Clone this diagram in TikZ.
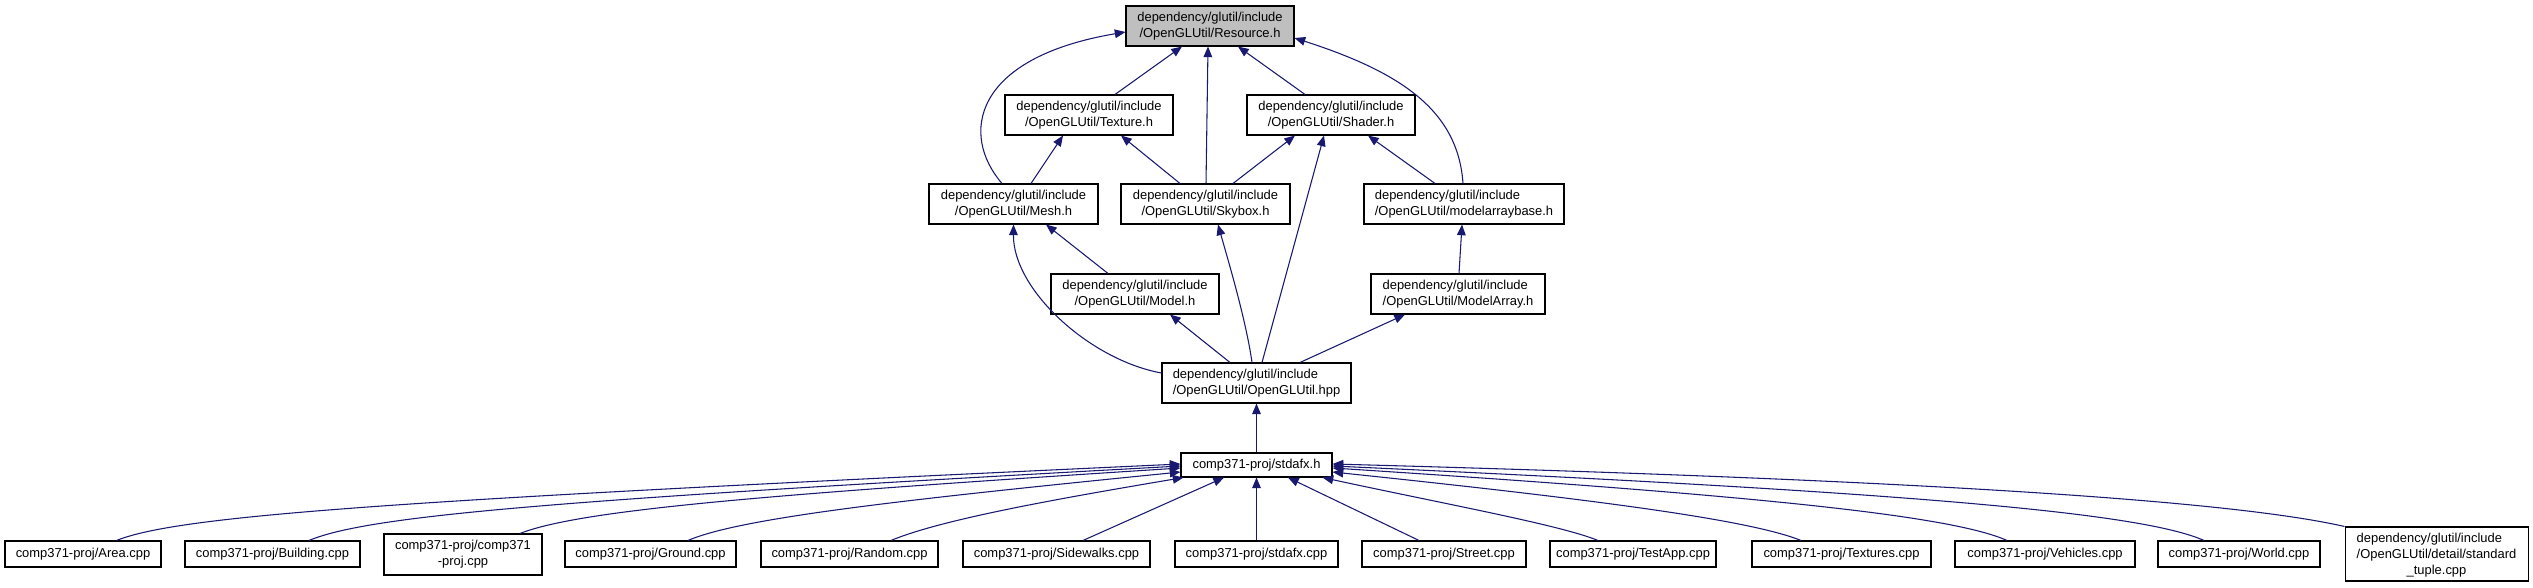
\documentclass[tikz,border=0pt]{standalone}
\usepackage{fontspec}
\setmainfont{Liberation Sans}
\usetikzlibrary{calc,arrows.meta}
\definecolor{edgec}{HTML}{191970}
\definecolor{resfill}{HTML}{BFBFBF}
\begin{document}
\begin{tikzpicture}[x=0.75pt,y=-0.75pt,
  box/.style={draw=black, line width=0.8pt, fill=white, inner sep=0pt,
    font=\fontsize{9.7pt}{12pt}\selectfont, align=center},
  bw/.style={minimum width=#1*0.75pt},
  bh/.style={minimum height=#1*0.75pt},
  edge/.style={draw=edgec, line width=0.8pt, -{Triangle[length=8pt,width=6.5pt]}},
]
\fill[white] (0,0) rectangle (2533,588);
\useasboundingbox (0,0) rectangle (2533,588);

% upper nodes
\node[box,fill=resfill,bw=168,bh=40] (res) at (1210,26) {dependency/glutil/include\\/OpenGLUtil/Resource.h};
\node[box,bw=168,bh=40] (tex) at (1089,115) {dependency/glutil/include\\/OpenGLUtil/Texture.h};
\node[box,bw=168,bh=40] (sha) at (1331,115) {dependency/glutil/include\\/OpenGLUtil/Shader.h};
\node[box,bw=169,bh=40] (mesh) at (1013.5,204) {dependency/glutil/include\\/OpenGLUtil/Mesh.h};
\node[box,bw=169,bh=40] (sky) at (1205.5,204) {dependency/glutil/include\\/OpenGLUtil/Skybox.h};
\node[box,bw=200,bh=40,align=left] (mab) at (1464,204) {dependency/glutil/include\\/OpenGLUtil/modelarraybase.h};
\node[box,bw=168,bh=40] (model) at (1135,294) {dependency/glutil/include\\/OpenGLUtil/Model.h};
\node[box,bw=174,bh=40,align=left] (marr) at (1458,294) {dependency/glutil/include\\/OpenGLUtil/ModelArray.h};
\node[box,bw=189,bh=40,align=left] (ogl) at (1256.5,383) {dependency/glutil/include\\/OpenGLUtil/OpenGLUtil.hpp};
\node[box,bw=151,bh=24] (stdh) at (1256.5,465) {comp371-proj/stdafx.h};

% bottom row
\node[box,bw=156,bh=26] (area) at (83,554) {comp371-proj/Area.cpp};
\node[box,bw=175,bh=26] (bldg) at (272.5,554) {comp371-proj/Building.cpp};
\node[box,bw=158,bh=41] (c371) at (463,554.5) {comp371-proj/comp371\\-proj.cpp};
\node[box,bw=171,bh=26] (ground) at (650.5,554) {comp371-proj/Ground.cpp};
\node[box,bw=177,bh=26] (random) at (849.5,554) {comp371-proj/Random.cpp};
\node[box,bw=187,bh=26] (side) at (1056.5,554) {comp371-proj/Sidewalks.cpp};
\node[box,bw=163,bh=26] (sdcpp) at (1256.5,554) {comp371-proj/stdafx.cpp};
\node[box,bw=164,bh=26] (street) at (1444,554) {comp371-proj/Street.cpp};
\node[box,bw=166,bh=26] (testapp) at (1633,554) {comp371-proj/TestApp.cpp};
\node[box,bw=179,bh=26] (textures) at (1841.5,554) {comp371-proj/Textures.cpp};
\node[box,bw=180,bh=26] (vehicles) at (2045,554) {comp371-proj/Vehicles.cpp};
\node[box,bw=162,bh=26] (world) at (2239,554) {comp371-proj/World.cpp};
\node[box,bw=183,bh=54] (tuple) at (2436.5,554) {\begin{tabular}{@{}l@{}}dependency/glutil/include\\/OpenGLUtil/detail/standard\end{tabular}\\\_tuple.cpp};

% upper edges
\draw[edge] ($(tex.north)+(26,0)$) -- ($(res.south)+(-28,0)$);
\draw[edge] ($(sha.north)+(-26,0)$) -- ($(res.south)+(28,0)$);
\draw[edge] ($(sky.north)+(0.5,0)$) -- ($(res.south)+(-2,0)$);
\draw[edge] ($(mesh.north)+(-11.5,0)$) .. controls (960,135) and (972,58) .. ($(res.west)+(0,6)$);
\draw[edge] ($(mab.north)+(-1,0)$) .. controls (1458,110) and (1400,72) .. ($(res.east)+(0,12)$);
\draw[edge] ($(mesh.north)+(17.5,0)$) -- ($(tex.south)+(-26,0)$);
\draw[edge] ($(sky.north)+(-25.5,0)$) -- ($(tex.south)+(32,0)$);
\draw[edge] ($(sky.north)+(27.5,0)$) -- ($(sha.south)+(-36,0)$);
\draw[edge] ($(ogl.north)+(5.5,0)$) -- ($(sha.south)+(-7,0)$);
\draw[edge] ($(mab.north)+(-29,0)$) -- ($(sha.south)+(37,0)$);
\draw[edge] ($(model.north)+(-27,0)$) -- ($(mesh.south)+(32.5,0)$);
\draw[edge] ($(ogl.west)+(0,-10)$) .. controls (1090,360) and (1013,290) .. (mesh.south);
\draw[edge] ($(ogl.north)+(-4.5,0)$) .. controls (1246,320) and (1228,260) .. ($(sky.south)+(12.5,0)$);
\draw[edge] ($(ogl.north)+(-26.5,0)$) -- ($(model.south)+(35,0)$);
\draw[edge] ($(ogl.north)+(43.5,0)$) -- ($(marr.south)+(-53,0)$);
\draw[edge] ($(marr.north)+(1,0)$) -- ($(mab.south)+(-2,0)$);
\draw[edge] (stdh.north) -- (ogl.south);

% bottom edges
\draw[edge] ($(area.north)+(33.5,0)$) .. controls (180,515) and (400,500) .. ($(stdh.west)+(0,-1)$);
\draw[edge] ($(bldg.north)+(36.5,0)$) .. controls (370,515) and (560,500) .. ($(stdh.west)+(0,1)$);
\draw[edge] ($(c371.north)+(57,0)$) .. controls (580,510) and (760,495) .. ($(stdh.west)+(0,3)$);
\draw[edge] ($(ground.north)+(37.5,0)$) .. controls (740,518) and (900,500) .. ($(stdh.west)+(0,7)$);
\draw[edge] ($(random.north)+(41.5,0)$) .. controls (940,520) and (1050,500) .. ($(stdh.south west)+(3,0)$);
\draw[edge] ($(side.north)+(26.5,0)$) -- ($(stdh.south)+(-32.5,0)$);
\draw[edge] (sdcpp.north) -- (stdh.south);
\draw[edge] ($(street.north)+(-25,0)$) -- ($(stdh.south)+(31.5,0)$);
\draw[edge] ($(testapp.north)+(-35,0)$) .. controls (1560,525) and (1450,505) .. ($(stdh.south east)+(-10,0)$);
\draw[edge] ($(textures.north)+(-40.5,0)$) .. controls (1750,520) and (1600,500) .. ($(stdh.east)+(0,7)$);
\draw[edge] ($(vehicles.north)+(-38,0)$) .. controls (1950,515) and (1750,495) .. ($(stdh.east)+(0,3)$);
\draw[edge] ($(world.north)+(-35,0)$) .. controls (2140,512) and (1900,492) .. ($(stdh.east)+(0,1)$);
\draw[edge] (tuple.north west) .. controls (2250,505) and (2000,482) .. ($(stdh.east)+(0,-1)$);
\end{tikzpicture}
\end{document}
